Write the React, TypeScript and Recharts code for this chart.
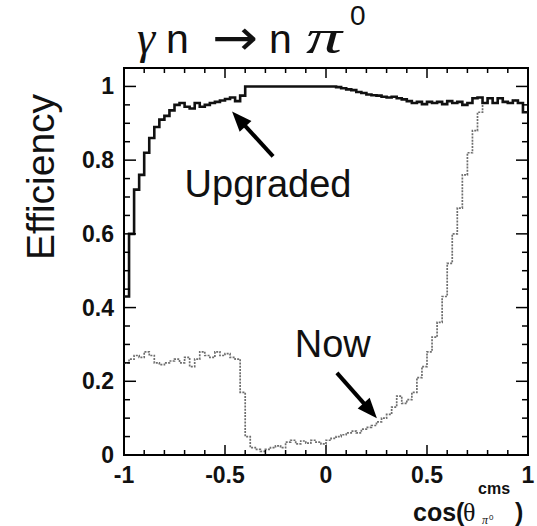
import { LineChart, Line, XAxis, YAxis, ReferenceArea, ReferenceLine, ReferenceDot } from 'recharts';

// histogram bins: left edge -1, width 0.025 (80 bins)
const BIN_START = -1;
const BIN_WIDTH = 0.025;

const UPGRADED = [
  0.43, 0.6, 0.72, 0.76, 0.82, 0.86, 0.89, 0.91, 0.92, 0.935,
  0.95, 0.955, 0.945, 0.94, 0.955, 0.945, 0.95, 0.955, 0.958, 0.962,
  0.966, 0.97, 0.96, 0.975, 1.0, 1.0, 1.0, 1.0, 1.0, 1.0,
  1.0, 1.0, 1.0, 1.0, 1.0, 1.0, 1.0, 1.0, 1.0, 1.0,
  1.0, 1.0, 0.998, 0.995, 0.992, 0.99, 0.985, 0.982, 0.978, 0.976,
  0.975, 0.972, 0.97, 0.972, 0.968, 0.965, 0.96, 0.955, 0.958, 0.952,
  0.958, 0.955, 0.958, 0.952, 0.96, 0.955, 0.958, 0.95, 0.955, 0.968,
  0.97, 0.955, 0.968, 0.955, 0.968, 0.958, 0.955, 0.962, 0.955, 0.93,
];

const NOW = [
  0.25, 0.26, 0.27, 0.265, 0.28, 0.27, 0.25, 0.245, 0.25, 0.255,
  0.26, 0.25, 0.265, 0.24, 0.26, 0.28, 0.27, 0.265, 0.28, 0.27,
  0.275, 0.265, 0.26, 0.17, 0.05, 0.02, 0.015, 0.01, 0.015, 0.02,
  0.025, 0.02, 0.035, 0.04, 0.03, 0.038, 0.032, 0.04, 0.035, 0.03,
  0.04, 0.045, 0.05, 0.055, 0.06, 0.065, 0.06, 0.07, 0.075, 0.08,
  0.09, 0.1, 0.11, 0.13, 0.16, 0.14, 0.15, 0.17, 0.21, 0.24,
  0.28, 0.32, 0.36, 0.43, 0.52, 0.6, 0.67, 0.76, 0.82, 0.88,
  0.93, 0.955, 0.968, 0.955, 0.968, 0.958, 0.955, 0.962, 0.955, 0.93,
];

const X_TICKS = [-1, -0.9, -0.8, -0.7, -0.6, -0.5, -0.4, -0.3, -0.2, -0.1, 0, 0.1, 0.2, 0.3, 0.4, 0.5, 0.6, 0.7, 0.8, 0.9, 1];
const Y_TICKS = [0, 0.05, 0.1, 0.15, 0.2, 0.25, 0.3, 0.35, 0.4, 0.45, 0.5, 0.55, 0.6, 0.65, 0.7, 0.75, 0.8, 0.85, 0.9, 0.95, 1];

const UP_ARROW = [{ x: -0.262, y: 0.81 }, { x: -0.465, y: 0.932 }];
const NOW_ARROW = [{ x: 0.054, y: 0.223 }, { x: 0.252, y: 0.1 }];
const UP_LABEL = { x: -0.7, y: 0.7, text: 'Upgraded' };
const NOW_LABEL = { x: -0.155, y: 0.266, text: 'Now' };

const data = UPGRADED.map((v, i) => ({
  x: +(BIN_START + i * BIN_WIDTH).toFixed(3),
  up: v,
  now: NOW[i],
}));
data.push({ x: 1, up: UPGRADED[UPGRADED.length - 1], now: NOW[NOW.length - 1] });

const W = 537;
const H = 526;
const MARGIN = { top: 68, right: 9, bottom: 41, left: 64 };
const PLOT_W = W - 124 - MARGIN.right;
const PLOT_H = H - MARGIN.top - 71;

const SANS = '"Liberation Sans", Arial, Helvetica, sans-serif';
const SERIF = '"Liberation Serif", "DejaVu Serif", serif';

function fmt(v: number) {
  return String(+v.toFixed(2));
}

function XTick(props: any) {
  const { x, y, payload } = props;
  const v = payload.value;
  const major = Math.abs(v * 2 - Math.round(v * 2)) < 1e-6;
  const len = major ? 10 : 5;
  return (
    <g>
      <line x1={x} y1={y} x2={x} y2={y - len} stroke="#000" strokeWidth={1.5} />
      <line x1={x} y1={y - PLOT_H} x2={x} y2={y - PLOT_H + len} stroke="#000" strokeWidth={1.5} />
      {major && (
        <text x={x} y={y + 28} textAnchor="middle" fontFamily={SANS} fontWeight="bold" fontSize={23} fill="#111">
          {fmt(v)}
        </text>
      )}
    </g>
  );
}

function YTick(props: any) {
  const { x, y, payload } = props;
  const v = payload.value;
  const major = Math.abs(v * 5 - Math.round(v * 5)) < 1e-6;
  const len = major ? 12 : 6;
  return (
    <g>
      <line x1={x} y1={y} x2={x + len} y2={y} stroke="#000" strokeWidth={1.5} />
      <line x1={x + PLOT_W} y1={y} x2={x + PLOT_W - len} y2={y} stroke="#000" strokeWidth={1.5} />
      {major && (
        <text x={x - 10} y={y + 8} textAnchor="end" fontFamily={SANS} fontWeight="bold" fontSize={23} fill="#111">
          {v === 0 || v === 1 ? fmt(v) : v.toFixed(1)}
        </text>
      )}
    </g>
  );
}

function arrowShape(p: any) {
  const { x1, y1, x2, y2 } = p;
  const dx = x2 - x1;
  const dy = y2 - y1;
  const L = Math.hypot(dx, dy) || 1;
  const ux = dx / L;
  const uy = dy / L;
  const head = 20;
  const half = 8;
  const bx = x2 - ux * head;
  const by = y2 - uy * head;
  return (
    <g>
      <line x1={x1} y1={y1} x2={bx + ux * 2} y2={by + uy * 2} stroke="#000" strokeWidth={4} />
      <polygon points={`${x2},${y2} ${bx - uy * half},${by + ux * half} ${bx + uy * half},${by - ux * half}`} fill="#000" />
    </g>
  );
}

function labelShape(text: string) {
  return (p: any) => (
    <text x={p.cx} y={p.cy} fontFamily={SANS} fontSize={38} fill="#111">
      {text}
    </text>
  );
}

export default function App() {
  return (
    <div style={{ position: 'absolute', left: 0, top: 0, width: W, height: H, background: '#fff' }}>
      <LineChart width={W} height={H} data={data} margin={MARGIN}>
        <XAxis
          dataKey="x"
          type="number"
          domain={[-1, 1]}
          ticks={X_TICKS}
          interval={0}
          height={30}
          tickSize={0}
          tickMargin={0}
          axisLine={false}
          tickLine={false}
          tick={<XTick />}
        />
        <YAxis
          type="number"
          domain={[0, 1.05]}
          ticks={Y_TICKS}
          interval={0}
          width={60}
          tickSize={0}
          tickMargin={0}
          axisLine={false}
          tickLine={false}
          tick={<YTick />}
        />
        <ReferenceArea x1={-1} x2={1} y1={0} y2={1.05} fill="none" stroke="#000" strokeWidth={2} />
        <Line
          type="stepAfter"
          dataKey="now"
          stroke="#6e6e6e"
          strokeWidth={1.7}
          strokeDasharray="2 1.2"
          dot={false}
          isAnimationActive={false}
        />
        <Line
          type="stepAfter"
          dataKey="up"
          stroke="#111"
          strokeWidth={2.6}
          dot={false}
          isAnimationActive={false}
        />
        <ReferenceLine segment={UP_ARROW} shape={arrowShape} />
        <ReferenceLine segment={NOW_ARROW} shape={arrowShape} />
        <ReferenceDot x={UP_LABEL.x} y={UP_LABEL.y} shape={labelShape(UP_LABEL.text)} />
        <ReferenceDot x={NOW_LABEL.x} y={NOW_LABEL.y} shape={labelShape(NOW_LABEL.text)} />
      </LineChart>
      <svg width={W} height={H} style={{ position: 'absolute', left: 0, top: 0, pointerEvents: 'none' }}>
        {/* title */}
        <text x={137} y={53} fontFamily={SERIF} fontStyle="italic" fontSize={46} fill="#111">γ</text>
        <text x={166} y={53} fontFamily={SANS} fontSize={41} fill="#111">n</text>
        <text x={212} y={55} fontFamily='"DejaVu Sans", sans-serif' fontSize={50} fill="#111" textLength={46} lengthAdjust="spacingAndGlyphs">→</text>
        <text x={269} y={53} fontFamily={SANS} fontSize={41} fill="#111">n</text>
        <text x={306} y={53} fontFamily={SERIF} fontStyle="italic" fontSize={48} fill="#111" textLength={36} lengthAdjust="spacingAndGlyphs">π</text>
        <text x={350} y={25} fontFamily={SANS} fontSize={28} fill="#111">0</text>
        {/* y title */}
        <text
          transform="translate(40,177) rotate(-90)"
          textAnchor="middle"
          dominantBaseline="central"
          fontFamily={SANS}
          fontSize={39}
          fill="#111"
        >
          Efficiency
        </text>
        {/* x title */}
        <text x={413} y={521} fontFamily={SANS} fontWeight="bold" fontSize={25} fill="#111">cos(</text>
        <text x={463} y={521} fontFamily={SERIF} fontSize={26} fill="#111">θ</text>
        <text x={478} y={494} fontFamily={SANS} fontWeight="bold" fontSize={16} fill="#111">cms</text>
        <text x={482} y={524} fontFamily={SERIF} fontStyle="italic" fontSize={12} fill="#111">π</text>
        <text x={489} y={520} fontFamily={SANS} fontSize={8} fill="#111">0</text>
        <text x={515} y={521} fontFamily={SANS} fontWeight="bold" fontSize={25} fill="#111">)</text>
      </svg>
    </div>
  );
}
